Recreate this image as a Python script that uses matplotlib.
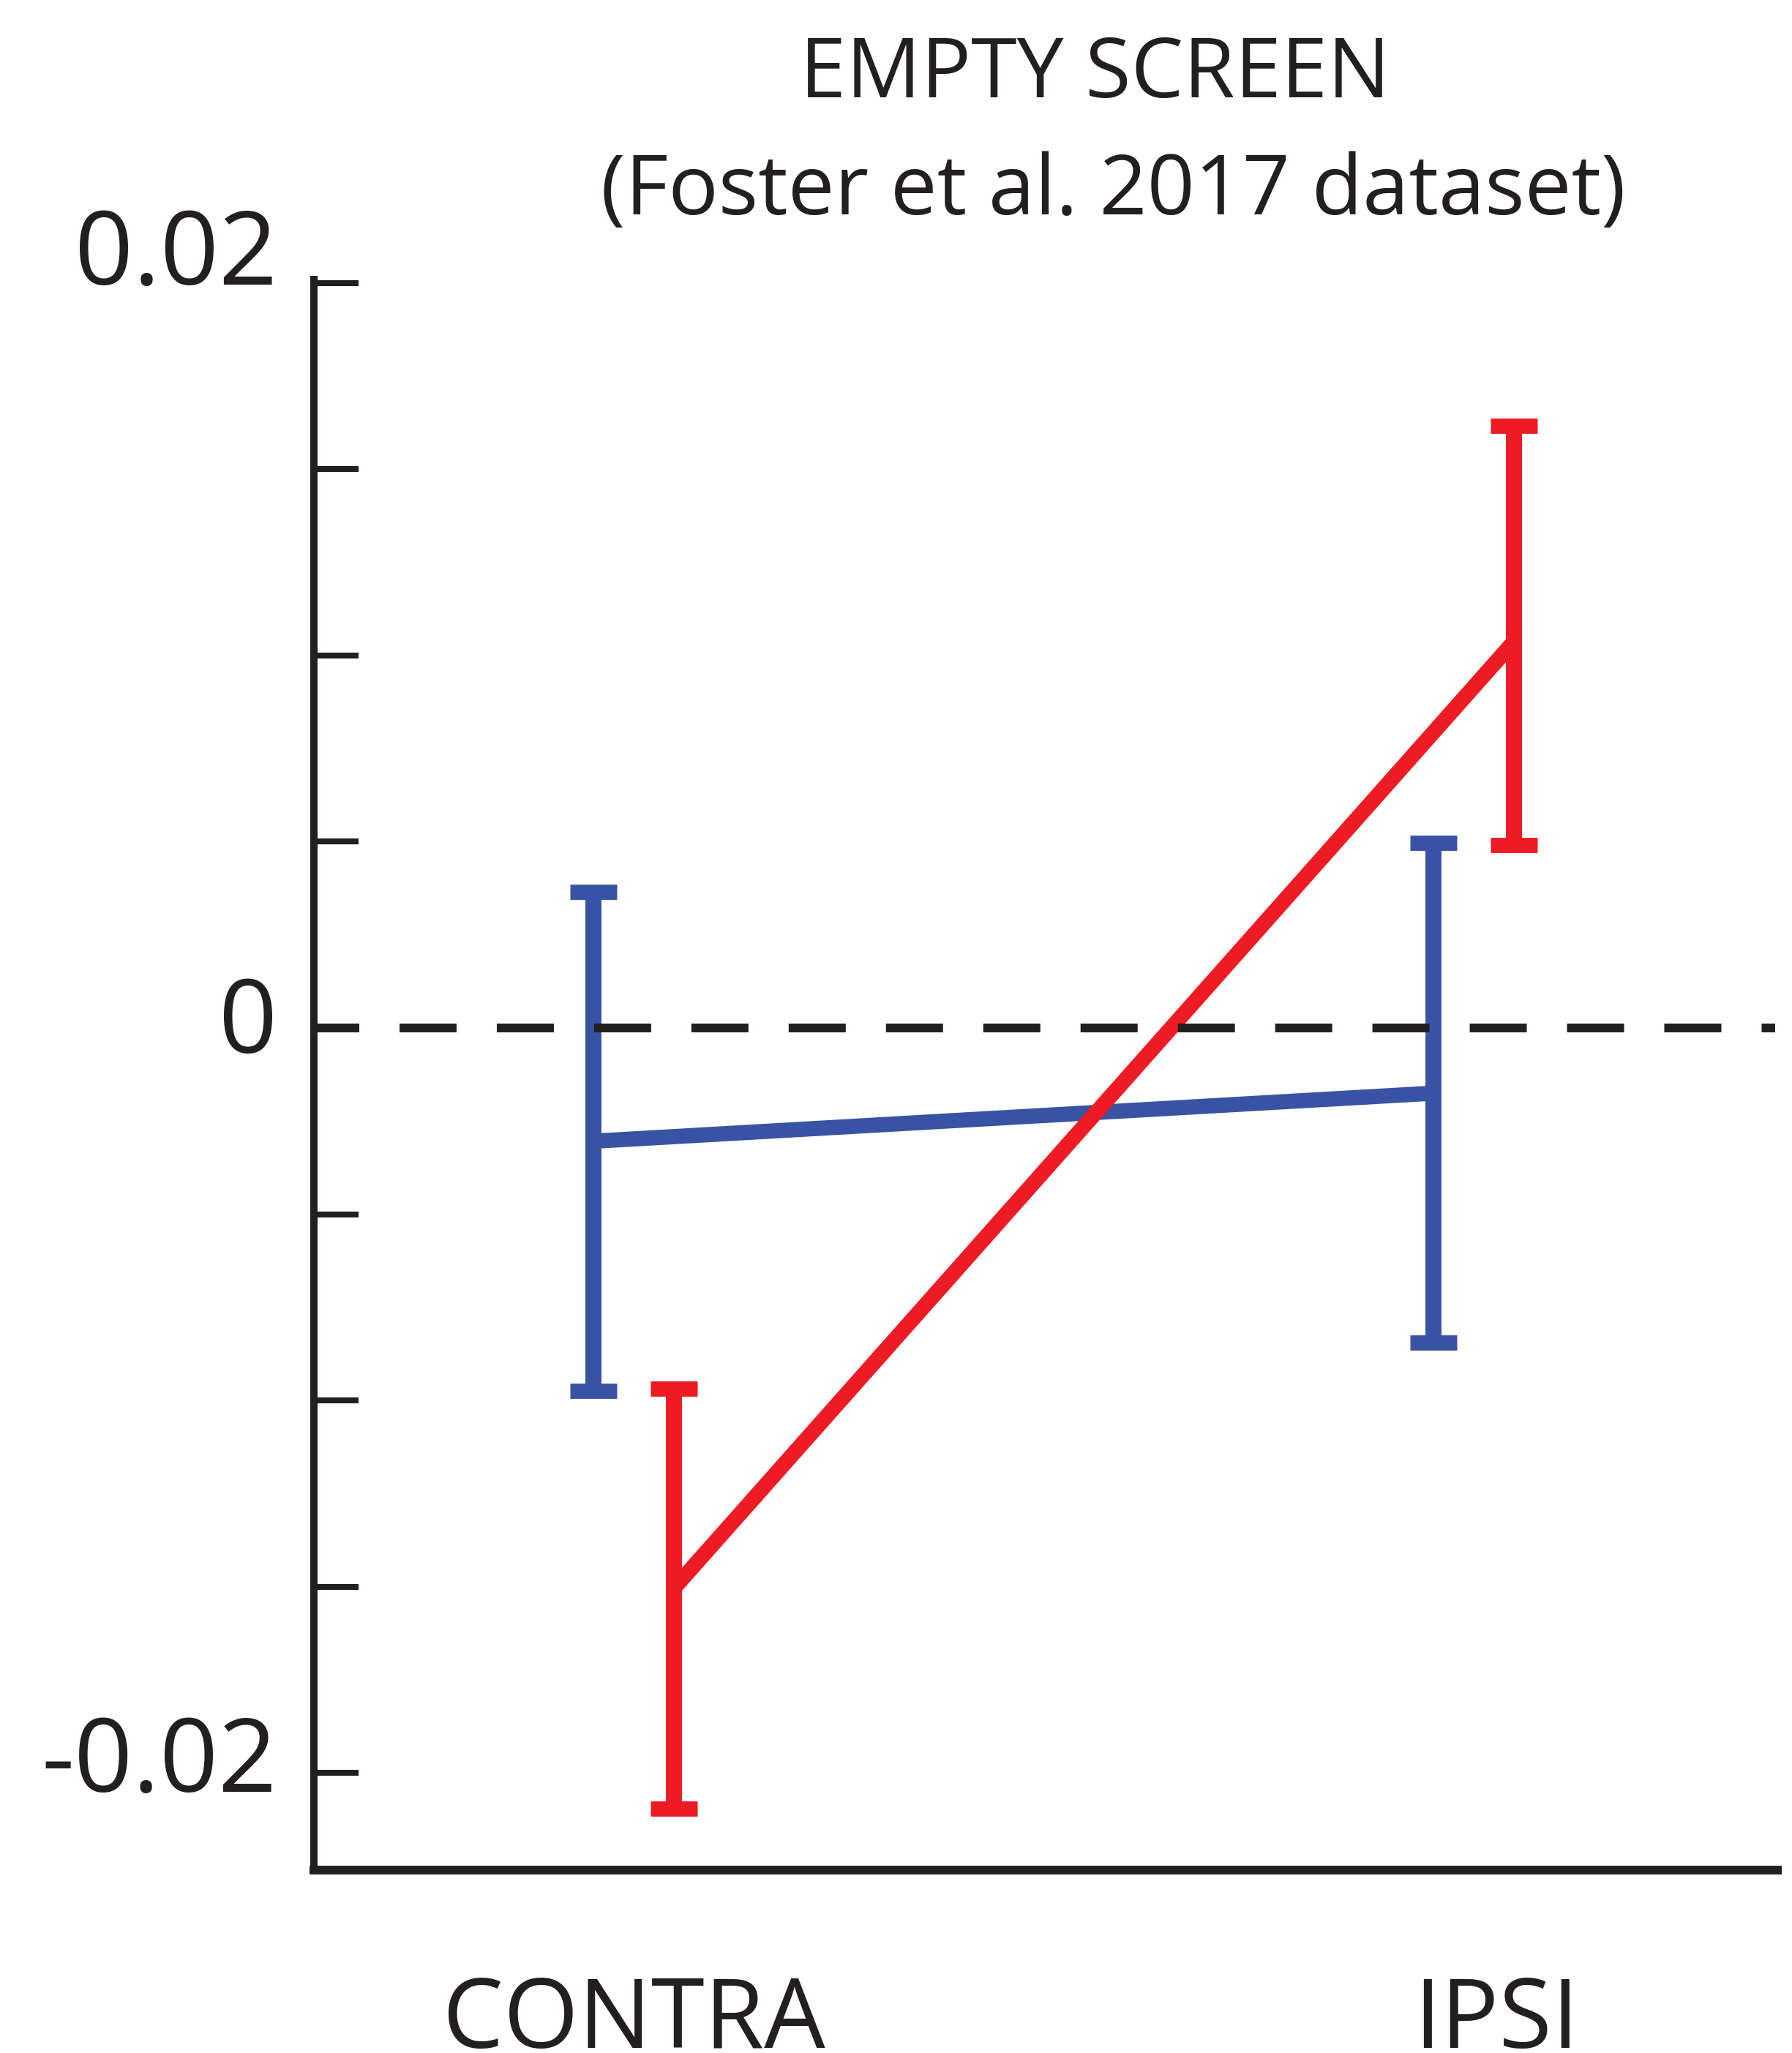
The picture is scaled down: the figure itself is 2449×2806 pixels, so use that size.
import numpy as np
import matplotlib
matplotlib.use('Agg')
import matplotlib.pyplot as plt
import matplotlib.transforms as mtransforms

# data
categories = ['CONTRA', 'IPSI']
blue_mean = [-0.00304, -0.00175]
blue_upper = [0.00365, 0.00497]
blue_lower = [-0.00974, -0.00844]
red_mean = [-0.01504, 0.01037]
red_upper = [-0.00968, 0.01616]
red_lower = [-0.02095, 0.00491]
yticks = [-0.02, -0.015, -0.01, -0.005, 0, 0.005, 0.01, 0.015, 0.02]
ytick_labels = ['-0.02', '', '', '', '0', '', '', '', '0.02']

plt.rcParams['font.family'] = ['Open Sans', 'DejaVu Sans']
ink = '#231F20'
blue = '#3953A4'
red = '#ED1C24'

fig = plt.figure(figsize=(24.49, 28.06), dpi=100)
ax = fig.add_axes([0.17517, 0.08909, 0.81666, 0.77495])

pos = np.arange(len(categories))
d = 0.0479   # horizontal offset between the two series

def series(x, mean, lower, upper, color, z):
    mean = np.array(mean)
    err = [mean - np.array(lower), np.array(upper) - mean]
    ax.errorbar(x, mean, yerr=err, fmt='none', ecolor=color, elinewidth=15.8,
                capsize=23, capthick=15, zorder=z)
    ax.plot(x, mean, color=color, lw=15, solid_capstyle='butt', zorder=z)

series(pos - d, blue_mean, blue_lower, blue_upper, blue, 2)
series(pos + d, red_mean, red_lower, red_upper, red, 3)

# dashed zero line, drawn over the data
ax.axhline(0, xmin=0, xmax=0.9985, color=ink, lw=8.64,
           linestyle=(1.33, (6.5, 4.58)), zorder=5)

ax.set_xlim(-0.3807, 1.3615)
ax.set_ylim(-0.022604, 0.0201)

for s in ['top', 'right']:
    ax.spines[s].set_visible(False)
ax.spines['left'].set_linewidth(7.2)
ax.spines['bottom'].set_linewidth(8.6)
for s in ['left', 'bottom']:
    ax.spines[s].set_color(ink)
    ax.spines[s].set_capstyle('projecting')

ax.set_xticks([])
ax.set_yticks(yticks)
ax.set_yticklabels(ytick_labels)
ax.tick_params(axis='y', direction='in', length=44, width=5.8, color=ink,
               pad=36, labelsize=101, labelcolor=ink)

# labels sit a bit above their ticks
shifts = {'0.02': 51, '0': 19, '-0.02': 27}
for lab in ax.get_yticklabels():
    dy = shifts.get(lab.get_text(), 0)
    lab.set_transform(lab.get_transform() +
                      mtransforms.ScaledTranslation(0, dy / 100, fig.dpi_scale_trans))

# category labels, partly cut off at the bottom edge
trans = mtransforms.blended_transform_factory(ax.transData, fig.transFigure)
label_x = [0.0, 1.027]
for x, c in zip(label_x, categories):
    ax.text(x, 1 - 2799 / 2806, c, transform=trans, ha='center', va='baseline',
            fontsize=95, color=ink, clip_on=False)

fig.text(0.6109, 1 - 133 / 2806, 'EMPTY SCREEN', ha='center', va='baseline',
         fontsize=82, color=ink)
fig.text(0.6211, 1 - 293 / 2806, '(Foster et al. 2017 dataset)', ha='center',
         va='baseline', fontsize=82, color=ink)

fig.savefig('out.png', dpi=100, facecolor='white')
